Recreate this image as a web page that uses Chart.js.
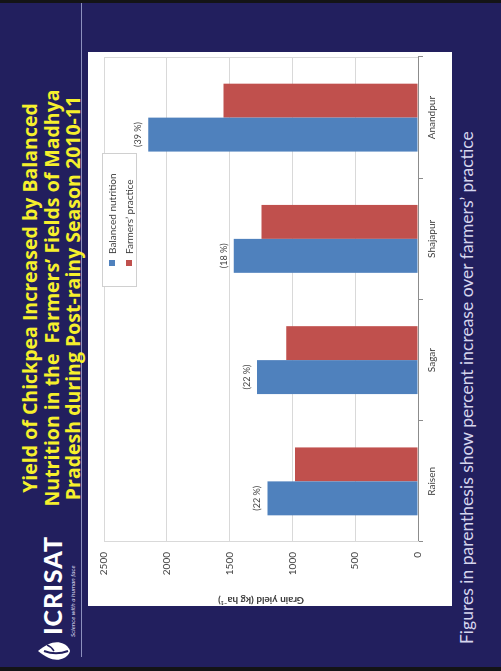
<!DOCTYPE html>
<html lang="en">
<head>
<meta charset="UTF-8">
<title>Chickpea yield, Madhya Pradesh 2010-11</title>
<script src="https://cdn.jsdelivr.net/npm/chart.js"></script>
<style>
  html, body { margin: 0; padding: 0; background: #141416; overflow: hidden; }
  body { width: 501px; height: 671px; position: relative; }
  /* the slide is laid out landscape and then stood on its side */
  .slide {
    position: absolute; left: 0; top: 0;
    width: 671px; height: 501px;
    transform-origin: 0 0;
    transform: translateY(671px) rotate(-90deg);
    background: #141416;
    font-family: Lato, "Open Sans", sans-serif;
  }
  .panel { position: absolute; left: 4px; right: 3px; top: 0; bottom: 0; background: #221f5e; }
  .rule { position: absolute; left: 14px; width: 654px; top: 81px; height: 1px; background: #8d90bd; }
  .title {
    position: absolute; left: 100px; top: 19px; width: 546px;
    text-align: center; color: #f6f02c; font-weight: bold;
    font-family: "Open Sans", sans-serif;
    font-size: 19.5px; line-height: 21.5px; white-space: pre;
  }
  .logo { position: absolute; left: 6px; top: 36px; }
  .logo .word { position: absolute; left: 30px; top: 1px; color: #fff; font-weight: 900; font-size: 25px; letter-spacing: 1px; }
  .logo .tag { position: absolute; left: 28px; top: 33px; color: #dcdcf0; font-style: italic; font-size: 6.5px; white-space: nowrap; }
  .note { position: absolute; left: 27px; top: 456px; color: #d6d6ee; font-size: 17.5px; white-space: nowrap; }
  .chartbox { position: absolute; left: 65px; top: 88px; width: 554px; height: 364px; background: #fff; }
  .legend {
    position: absolute; left: 319px; top: 14px; width: 132px; height: 33px;
    border: 1px solid #d0d0d0; background: #fff;
    font-size: 10px; color: #404040;
  }
  .legend div { position: absolute; left: 20px; height: 12px; line-height: 12px; white-space: nowrap; }
  .legend span { display: inline-block; width: 6px; height: 6px; margin-right: 6px; vertical-align: 1px; }
</style>
</head>
<body>
<div class="slide">
  <div class="panel"></div>
  <div class="rule"></div>
  <div class="title">Yield of Chickpea Increased by Balanced
Nutrition in the  Farmers’ Fields of Madhya
Pradesh during Post-rainy Season 2010-11</div>

  <div class="logo">
    <svg width="28" height="36" viewBox="0 0 28 36">
      <path d="M14 2 C6 12 3 20 7 28 C9 32 13 34 14 34 C15 34 19 32 21 28 C25 20 22 12 14 2 Z" fill="#fff"/>
      <path d="M14 8 C11 16 11 24 14 32" stroke="#221f5e" stroke-width="2" fill="none"/>
      <path d="M14 18 C17 16 19 14 20 11" stroke="#221f5e" stroke-width="1.5" fill="none"/>
    </svg>
    <div class="word">ICRISAT</div>
    <div class="tag">Science with a human face</div>
  </div>

  <div class="chartbox">
    <canvas id="yieldChart"></canvas>
    <div class="legend" id="legend"></div>
  </div>

  <div class="note">Figures in parenthesis show percent increase over farmers’ practice</div>
</div>

<script>
  const districts = ['Raisen', 'Sagar', 'Shajapur', 'Anandpur'];
  const balancedYield = [1199, 1281, 1467, 2147];
  const farmersYield = [979, 1049, 1246, 1548];
  const increaseLabels = ['(22 %)', '(22 %)', '(18 %)', '(39 %)'];
  const yieldTicks = [0, 500, 1000, 1500, 2000, 2500];
  const seriesNames = ['Balanced nutrition', 'Farmers’ practice'];
  const seriesColors = ['#4f81bd', '#c0504d'];

  // legend box sits inside the plot, top right
  const legend = document.getElementById('legend');
  seriesNames.forEach((name, i) => {
    const row = document.createElement('div');
    row.style.top = (3 + i * 17) + 'px';
    row.innerHTML = '<span style="background:' + seriesColors[i] + '"></span>' + name;
    legend.appendChild(row);
  });

  // percent increase written above the balanced nutrition bars
  const increasePlugin = {
    id: 'increase',
    afterDatasetsDraw(chart) {
      const ctx = chart.ctx;
      ctx.save();
      ctx.font = '9px Lato';
      ctx.fillStyle = '#404040';
      ctx.textAlign = 'center';
      chart.getDatasetMeta(0).data.forEach((bar, i) => {
        ctx.fillText(increaseLabels[i], bar.x, bar.y - 7);
      });
      ctx.restore();
    }
  };

  // plot area outline (right edge has no axis)
  const framePlugin = {
    id: 'frame',
    beforeDatasetsDraw(chart) {
      const a = chart.chartArea;
      const ctx = chart.ctx;
      ctx.save();
      ctx.strokeStyle = '#d9d9d9';
      ctx.lineWidth = 1;
      ctx.beginPath();
      ctx.moveTo(Math.round(a.right) - 0.5, a.top);
      ctx.lineTo(Math.round(a.right) - 0.5, a.bottom);
      ctx.stroke();
      ctx.restore();
    }
  };

  new Chart(document.getElementById('yieldChart'), {
    type: 'bar',
    data: {
      labels: districts,
      datasets: [
        { label: seriesNames[0], data: balancedYield, backgroundColor: seriesColors[0] },
        { label: seriesNames[1], data: farmersYield, backgroundColor: seriesColors[1] }
      ]
    },
    options: {
      responsive: true,
      maintainAspectRatio: false,
      animation: false,
      categoryPercentage: 0.56,
      barPercentage: 1.0,
      layout: { padding: { top: 7, right: 5 } },
      plugins: {
        legend: { display: false },
        tooltip: { enabled: false }
      },
      scales: {
        x: {
          grid: { drawOnChartArea: false, tickLength: 5, color: '#8c8c8c', offset: true },
          border: { color: '#8c8c8c' },
          ticks: { color: '#404040', font: { family: 'Lato', size: 10 }, padding: 3 },
          afterFit: s => { s.height = 34; }
        },
        y: {
          min: 0,
          max: 2500,
          afterBuildTicks: s => { s.ticks = yieldTicks.map(v => ({ value: v })); },
          grid: { color: '#d9d9d9', tickLength: 0 },
          border: { color: '#d9d9d9' },
          ticks: {
            color: '#404040',
            font: { family: 'Lato', size: 10 },
            padding: 10,
            callback: v => String(v)
          },
          title: {
            display: true,
            text: 'Grain yield (kg ha⁻¹)',
            color: '#404040',
            font: { family: 'Lato', size: 10, weight: 'bold' },
            padding: 0
          },
          afterFit: s => { s.width = 64; }
        }
      }
    },
    plugins: [increasePlugin, framePlugin]
  });
</script>
</body>
</html>
